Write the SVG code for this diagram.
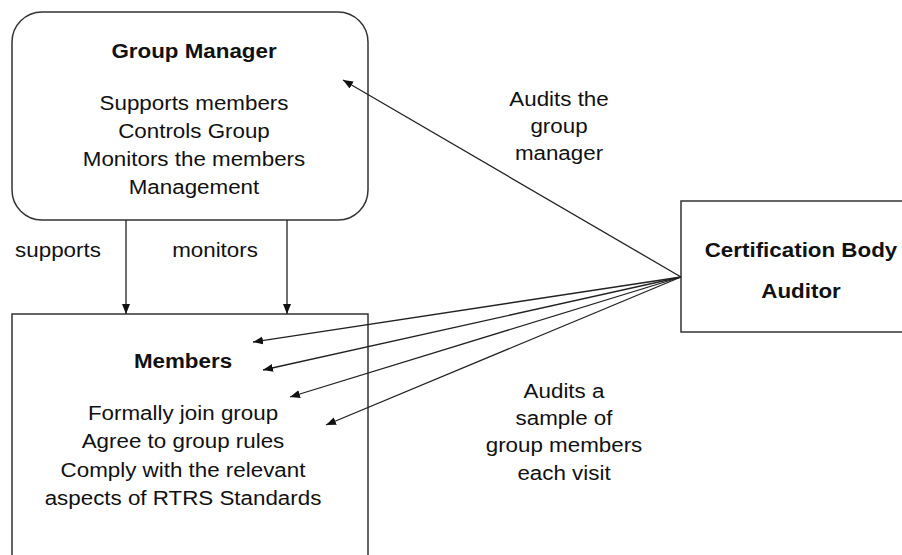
<svg xmlns="http://www.w3.org/2000/svg" width="902" height="555" viewBox="0 0 902 555">
<style>
  .box { fill: #ffffff; stroke: #333333; stroke-width: 1.5; }
  .t { font-family: "Liberation Sans", Arial, sans-serif; font-size: 21px; fill: #111111; text-anchor: middle; }
  .b { font-weight: bold; }
  .c { stroke: #222222; stroke-width: 1.3; fill: none; marker-end: url(#ah); }
</style>
<defs>
  <marker id="ah" markerUnits="userSpaceOnUse" markerWidth="11" markerHeight="9" refX="10" refY="4" orient="auto">
    <path d="M0,0 L10,4 L0,8 z" fill="#111111"/>
  </marker>
</defs>
<rect width="902" height="555" fill="#ffffff"/>

<g id="group-manager">
  <rect class="box" x="12" y="12" width="356" height="208" rx="30" ry="30"/>
  <g transform="translate(194 0) scale(1.065 1)">
    <text class="t b" x="0" y="58">Group Manager</text>
    <text class="t" x="0" y="110">Supports members</text>
    <text class="t" x="0" y="138">Controls Group</text>
    <text class="t" x="0" y="166">Monitors the members</text>
    <text class="t" x="0" y="194">Management</text>
  </g>
</g>

<g id="members">
  <rect class="box" x="12" y="314" width="356" height="260"/>
  <g transform="translate(183 0) scale(1.065 1)">
    <text class="t b" x="0" y="368">Members</text>
    <text class="t" x="0" y="420">Formally join group</text>
    <text class="t" x="0" y="448">Agree to group rules</text>
    <text class="t" x="0" y="477">Comply with the relevant</text>
    <text class="t" x="0" y="505">aspects of RTRS Standards</text>
  </g>
</g>

<g id="certification-body">
  <rect class="box" x="681" y="201" width="240" height="131"/>
  <g transform="translate(801 0) scale(1.065 1)">
    <text class="t b" x="0" y="257">Certification Body</text>
    <text class="t b" x="0" y="298">Auditor</text>
  </g>
</g>

<g id="connectors">
  <line class="c" x1="126" y1="220" x2="126" y2="314"/>
  <line class="c" x1="287" y1="220" x2="287" y2="314"/>
  <line class="c" x1="681" y1="277" x2="343" y2="80"/>
  <line class="c" x1="681" y1="277" x2="253" y2="342"/>
  <line class="c" x1="681" y1="277" x2="263" y2="370"/>
  <line class="c" x1="681" y1="277" x2="290" y2="397"/>
  <line class="c" x1="681" y1="277" x2="326" y2="425"/>
</g>

<g id="labels">
  <g transform="translate(58 0) scale(1.065 1)">
    <text class="t" x="0" y="257">supports</text>
  </g>
  <g transform="translate(215 0) scale(1.065 1)">
    <text class="t" x="0" y="257">monitors</text>
  </g>
  <g transform="translate(559 0) scale(1.065 1)">
    <text class="t" x="0" y="106">Audits the</text>
    <text class="t" x="0" y="133">group</text>
    <text class="t" x="0" y="160">manager</text>
  </g>
  <g transform="translate(564 0) scale(1.065 1)">
    <text class="t" x="0" y="398">Audits a</text>
    <text class="t" x="0" y="425">sample of</text>
    <text class="t" x="0" y="452">group members</text>
    <text class="t" x="0" y="480">each visit</text>
  </g>
</g>
</svg>
